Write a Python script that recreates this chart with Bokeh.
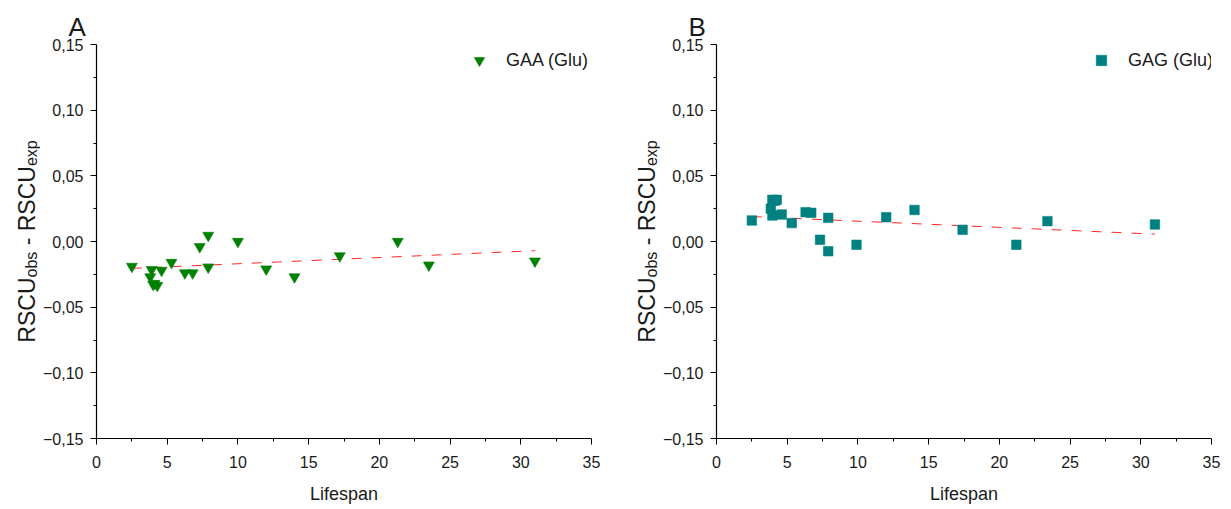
import math
from bokeh.plotting import figure
from bokeh.models import (Range1d, FixedTicker, CustomJSTickFormatter, Label,
                          Legend, LegendItem)
from bokeh.layouts import row
from bokeh.embed import file_html
from bokeh.resources import INLINE

# ---------------- data ----------------
lifespan_a = [2.5, 3.8, 3.9, 4.0, 4.1, 4.3, 4.6, 5.3, 6.25, 6.8, 7.3, 7.9, 7.9,
              10.0, 12.0, 14.0, 17.2, 21.3, 23.5, 31.0]
gaa_glu = [-0.019, -0.027, -0.0215, -0.0327, -0.032, -0.0335, -0.022, -0.016,
           -0.024, -0.024, -0.004, 0.0046, -0.0195, 0.0, -0.021, -0.027,
           -0.011, 0.0, -0.018, -0.015]

lifespan_b = [2.5, 3.84, 3.95, 3.95, 4.1, 4.26, 4.61, 5.32, 6.3, 6.7, 7.32, 7.9,
              7.9, 9.9, 12.0, 14.0, 17.4, 21.2, 23.4, 31.0]
gag_glu = [0.016, 0.025, 0.0198, 0.0317, 0.031, 0.0317, 0.0205, 0.014, 0.0223,
           0.0218, 0.0013, 0.018, -0.0074, -0.0025, 0.0185, 0.024, 0.0089,
           -0.0025, 0.0155, 0.013]

fit_x = [2.5, 31.0]
fit_gaa = [-0.0205, -0.0070]
fit_gag = [0.0190, 0.0056]

x_ticks = [0, 5, 10, 15, 20, 25, 30, 35]
y_ticks = [-0.15, -0.10, -0.05, 0.0, 0.05, 0.10, 0.15]

FONT = "Liberation Sans"
TXT = "#1a1a1a"
H = 509
TOP, BOTTOM = 44, 71          # borders above / below the plotting frame
STRIP_W = 40
AXIS_W = 55
FW, FH = 495, 394
# Arial-like advance widths (em) for the y-axis label pieces
W = {"R": .722, "S": .667, "C": .722, "U": .722, "o": .556, "b": .556,
     "s": .5, " ": .278, "-": .333, "e": .556, "x": .5, "p": .556}


def tw(s, size):
    return sum(W[c] for c in s) * size


def ylabel_strip():
    """Narrow figure holding the rotated y-axis title with subscripts.
    Its frame spans the same rows as the chart frames; data units = pixels
    measured upward from the bottom of the page."""
    s = figure(frame_width=STRIP_W, frame_height=FH, min_border_left=0,
               min_border_right=0, min_border_top=TOP,
               min_border_bottom=BOTTOM, output_backend="svg",
               toolbar_location=None, x_range=Range1d(0, STRIP_W),
               y_range=Range1d(BOTTOM, H - TOP), x_axis_location=None,
               y_axis_location=None)
    s.outline_line_color = None
    s.xgrid.visible = False
    s.ygrid.visible = False
    fs, ss = 23, 16
    base = 26
    # (text, size, advance-before, advance-after, baseline shift)
    pieces = [("RSCU", fs, 0, 0, 0), ("obs", ss, 0, 0, 4.5),
              ("-", fs, tw(" ", fs), tw(" ", fs), 0),
              ("RSCU", fs, 0, 0, 0), ("exp", ss, 0, 0, 4.5)]
    total = sum(tw(t, sz) + a + b for t, sz, a, b, _ in pieces)
    y = (H - 241) - total / 2.0
    for t, sz, a, b, sh in pieces:
        y += a
        s.add_layout(Label(x=base + sh, y=y, text=t,
                           angle=math.pi / 2, text_font=FONT,
                           text_font_size=f"{sz}px", text_align="left",
                           text_baseline="alphabetic", text_color=TXT))
        y += tw(t, sz) + b
    return s


def make_panel(xs, ys, fy, marker, color, size, legend_text, letter,
               border_right, leg_x):
    p = figure(frame_width=FW, frame_height=FH, min_border_left=AXIS_W,
               min_border_right=border_right, min_border_top=TOP,
               min_border_bottom=BOTTOM, output_backend="svg",
               toolbar_location=None, x_range=Range1d(0, 35),
               y_range=Range1d(-0.15, 0.15), background_fill_color="white",
               border_fill_color="white", title=letter)
    p.outline_line_color = None
    p.xgrid.visible = False
    p.ygrid.visible = False

    p.title.align = "left"
    p.title.offset = -28
    p.title.text_font = FONT
    p.title.text_font_size = "26px"
    p.title.text_font_style = "normal"
    p.title.text_color = TXT
    p.title.standoff = 5

    p.line(fit_x, fy, line_color="#ff0000", line_width=1, line_alpha=0.85,
           line_dash="10 10")
    r = p.scatter(xs, ys, marker=marker, size=size, fill_color=color,
                  line_color=color, line_alpha=0.6)

    for ax in (p.xaxis[0], p.yaxis[0]):
        ax.axis_line_color = "black"
        ax.axis_line_width = 1.2
        ax.major_tick_line_color = "black"
        ax.minor_tick_line_color = "black"
        ax.major_tick_in = 0
        ax.major_tick_out = 6
        ax.minor_tick_in = 0
        ax.minor_tick_out = 3
        ax.major_label_text_font = FONT
        ax.major_label_text_font_size = "16px"
        ax.major_label_text_color = TXT

    p.xaxis.ticker = FixedTicker(ticks=x_ticks,
                                 minor_ticks=[t + 2.5 for t in x_ticks[:-1]])
    p.yaxis.ticker = FixedTicker(ticks=y_ticks,
                                 minor_ticks=[t + 0.025 for t in y_ticks[:-1]])
    p.yaxis.formatter = CustomJSTickFormatter(code="""
        var s = Math.abs(tick).toFixed(2).replace('.', ',');
        return (tick < -1e-9 ? '\\u2212' : '') + s;
    """)
    p.xaxis.major_label_standoff = 11
    p.yaxis.major_label_standoff = 7
    p.xaxis.axis_label = "Lifespan"
    p.xaxis.axis_label_text_font = FONT
    p.xaxis.axis_label_text_font_size = "18px"
    p.xaxis.axis_label_text_font_style = "normal"
    p.xaxis.axis_label_text_color = TXT
    p.xaxis.axis_label_standoff = 13

    legend = Legend(items=[LegendItem(label=legend_text, renderers=[r])],
                    location=(leg_x, 365), glyph_width=26, glyph_height=26,
                    label_standoff=14, padding=0, margin=0, spacing=0,
                    border_line_color=None, background_fill_alpha=0,
                    label_text_font=FONT, label_text_font_size="18px",
                    label_height=26, label_text_color=TXT)
    p.add_layout(legend)
    return p


pa = make_panel(lifespan_a, gaa_glu, fit_gaa, "inverted_triangle", "#008000",
                11, "GAA (Glu)", "A", 29, 370)
pb = make_panel(lifespan_b, gag_glu, fit_gag, "square", "#008080", 9.5,
                "GAG (Glu)", "B", 22, 372)

layout = row(ylabel_strip(), pa, ylabel_strip(), pb)
open("out.html", "w").write(file_html(layout, INLINE))
